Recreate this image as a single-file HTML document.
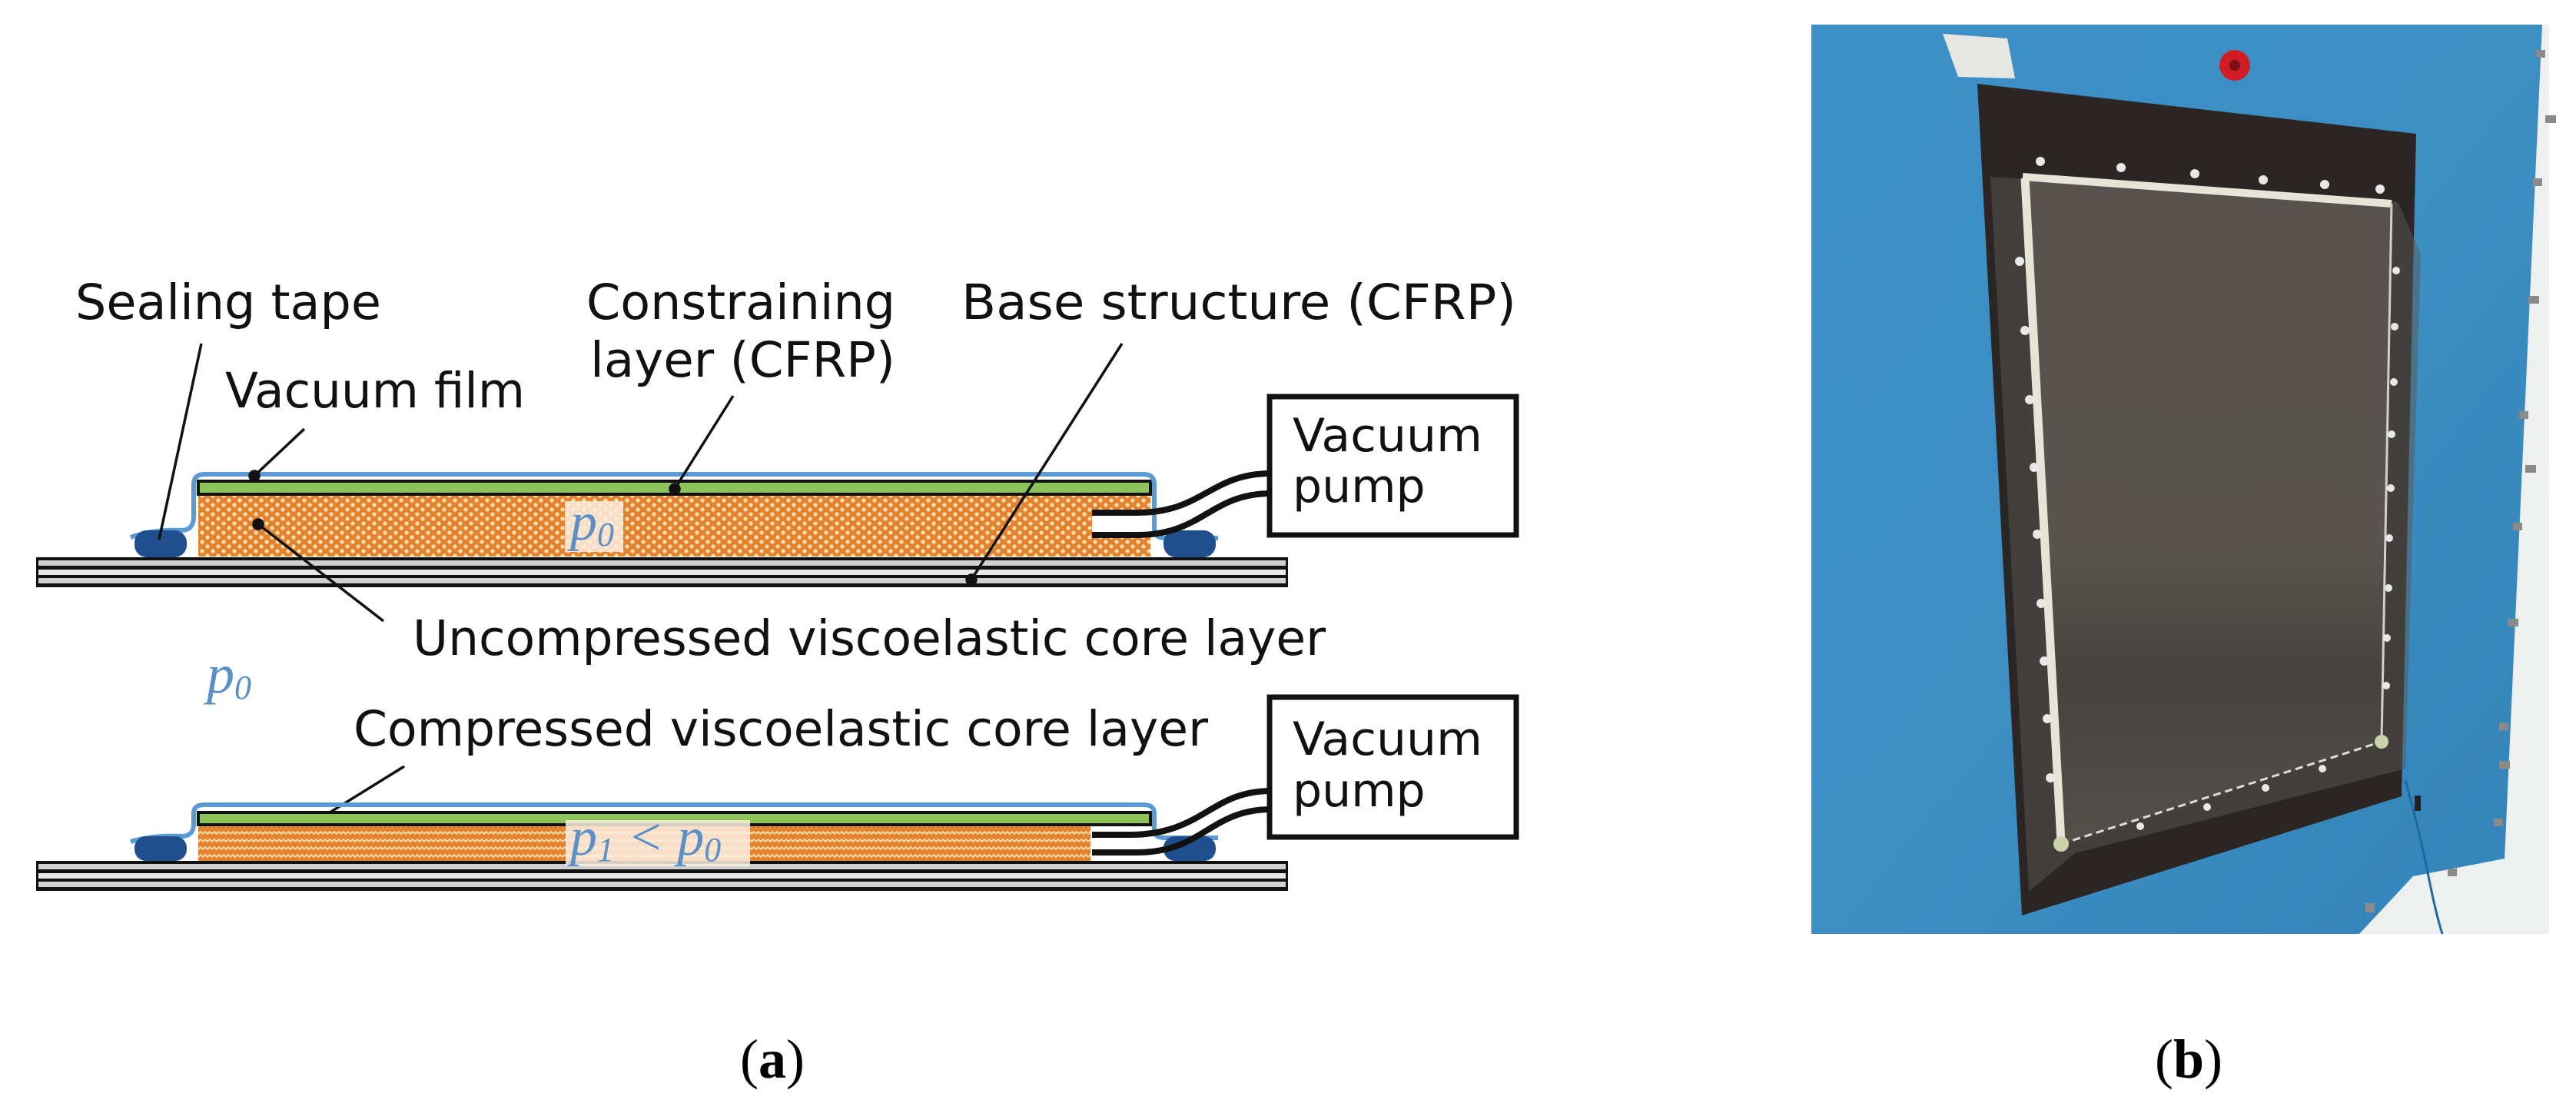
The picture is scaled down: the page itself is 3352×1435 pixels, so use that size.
<!DOCTYPE html>
<html><head><meta charset="utf-8"><style>
html,body{margin:0;padding:0;background:#fff;}
svg{display:block;}
</style></head><body>
<svg width="3352" height="1435" viewBox="0 0 3352 1435" xmlns="http://www.w3.org/2000/svg">
<defs>
<pattern id="dots" width="14" height="12" patternUnits="userSpaceOnUse">
<rect width="14" height="12" fill="#e4832f"/>
<circle cx="4" cy="3" r="2.6" fill="#fbe0b0"/>
<circle cx="11" cy="9" r="2.6" fill="#fbe0b0"/>
</pattern>
<pattern id="zig" width="12" height="10" patternUnits="userSpaceOnUse">
<rect width="12" height="10" fill="#e4832f"/>
<path d="M0,5 L3,2 L6,5 L9,2 L12,5" stroke="#fbd9a8" stroke-width="2" fill="none"/>
</pattern>
<linearGradient id="bag" x1="0" y1="0" x2="0" y2="1">
<stop offset="0" stop-color="#57524e"/><stop offset="0.55" stop-color="#59544f"/><stop offset="0.75" stop-color="#46423f"/><stop offset="1" stop-color="#54504c"/>
</linearGradient>
<linearGradient id="blue" x1="0" y1="0" x2="1" y2="1">
<stop offset="0" stop-color="#3d90c6"/><stop offset="0.5" stop-color="#3c8ec3"/><stop offset="1" stop-color="#3383b9"/>
</linearGradient>
</defs>

<g font-family="DejaVu Sans, Liberation Sans, sans-serif" font-size="63" fill="#111">
<text x="98" y="415" textLength="398" lengthAdjust="spacingAndGlyphs">Sealing tape</text>
<text x="763" y="415" textLength="402" lengthAdjust="spacingAndGlyphs">Constraining</text>
<text x="768" y="490" textLength="397" lengthAdjust="spacingAndGlyphs">layer (CFRP)</text>
<text x="1251" y="415" textLength="722" lengthAdjust="spacingAndGlyphs">Base structure (CFRP)</text>
<text x="293" y="530" textLength="390" lengthAdjust="spacingAndGlyphs">Vacuum film</text>
<text x="537" y="852" textLength="1188" lengthAdjust="spacingAndGlyphs">Uncompressed viscoelastic core layer</text>
<text x="460" y="970" textLength="1112" lengthAdjust="spacingAndGlyphs">Compressed viscoelastic core layer</text>
</g>

<!-- Top assembly -->
<g>
<rect x="47" y="725" width="1629" height="39" fill="#111"/>
<rect x="50" y="729" width="1623" height="7" fill="#d0d0d0"/>
<rect x="50" y="741" width="1623" height="7" fill="#e8e8e8"/>
<rect x="50" y="752" width="1623" height="7" fill="#d0d0d0"/>
<rect x="258" y="644" width="1239" height="80" fill="url(#dots)"/>
<rect x="1421" y="668" width="76" height="28" fill="#fff"/>
<rect x="258" y="626" width="1239" height="17" fill="#8dc45a" stroke="#111" stroke-width="4"/>
<path d="M170,699 Q200,688 236,690 Q252,690 252,672 L252,630 Q252,617 266,617 L1488,617 Q1502,617 1502,630 L1502,688 Q1502,700 1516,700 L1585,700" fill="none" stroke="#5b9bd5" stroke-width="6"/>
<rect x="175" y="690" width="68" height="35" rx="16" fill="#1f4f8e"/>
<rect x="1514" y="690" width="68" height="35" rx="16" fill="#1f4f8e"/>
<path d="M1421,667 L1480,667 C1565,667 1575,616 1654,616" fill="none" stroke="#111" stroke-width="8"/>
<path d="M1421,696 L1480,696 C1565,696 1575,642 1654,642" fill="none" stroke="#111" stroke-width="8"/>
<rect x="735" y="652" width="76" height="66" fill="#fbeee0" opacity="0.85"/>
<text x="742" y="702" font-family="Liberation Serif, serif" font-style="italic" font-size="70" fill="#5b8fc8">p<tspan font-size="44" dy="8">0</tspan></text>
</g>

<!-- pointers -->
<g stroke="#111" stroke-width="3.5" fill="#111">
<line x1="262" y1="447" x2="207" y2="702"/>
<line x1="396" y1="558" x2="331" y2="619"/><circle cx="331" cy="619" r="6"/>
<line x1="954" y1="515" x2="878" y2="636"/><circle cx="878" cy="636" r="6"/>
<line x1="1460" y1="447" x2="1264" y2="754"/><circle cx="1264" cy="754" r="6"/>
<line x1="499" y1="808" x2="336" y2="682"/><circle cx="336" cy="682" r="6"/>
<line x1="526" y1="997" x2="363" y2="1098"/><circle cx="363" cy="1098" r="6"/>
</g>

<text x="269" y="901" font-family="Liberation Serif, serif" font-style="italic" font-size="72" fill="#5b8fc8">p<tspan font-size="44" dy="8">0</tspan></text>

<!-- Bottom assembly -->
<g>
<rect x="47" y="1120" width="1629" height="39" fill="#111"/>
<rect x="50" y="1124" width="1623" height="7" fill="#d0d0d0"/>
<rect x="50" y="1136" width="1623" height="7" fill="#e8e8e8"/>
<rect x="50" y="1147" width="1623" height="7" fill="#d0d0d0"/>
<rect x="258" y="1075" width="1161" height="45" fill="url(#zig)"/>
<rect x="258" y="1057" width="1239" height="16" fill="#8dc45a" stroke="#111" stroke-width="4"/>
<path d="M170,1095 Q200,1086 236,1088 Q252,1088 252,1072 L252,1058 Q252,1047 266,1047 L1488,1047 Q1502,1047 1502,1058 L1502,1080 Q1502,1090 1516,1090 L1585,1090" fill="none" stroke="#5b9bd5" stroke-width="6"/>
<rect x="175" y="1088" width="68" height="32" rx="15" fill="#1f4f8e"/>
<rect x="1514" y="1088" width="68" height="32" rx="15" fill="#1f4f8e"/>
<path d="M1421,1086 L1470,1086 C1565,1086 1575,1029 1654,1029" fill="none" stroke="#111" stroke-width="8"/>
<path d="M1421,1109 L1480,1109 C1565,1109 1575,1053 1654,1053" fill="none" stroke="#111" stroke-width="8"/>
<rect x="736" y="1067" width="240" height="60" fill="#fbeee0" opacity="0.85"/>
<text x="742" y="1112" font-family="Liberation Serif, serif" font-style="italic" font-size="70" fill="#5b8fc8">p<tspan font-size="44" dy="8">1</tspan><tspan dy="-8"> &lt; p</tspan><tspan font-size="44" dy="8">0</tspan></text>
</g>

<!-- pump boxes -->
<rect x="1652" y="516" width="321" height="180" fill="#fff" stroke="#111" stroke-width="7"/>
<rect x="1652" y="907" width="321" height="182" fill="#fff" stroke="#111" stroke-width="7"/>
<g font-family="DejaVu Sans, Liberation Sans, sans-serif" font-size="60" fill="#111">
<text x="1682" y="587" textLength="247" lengthAdjust="spacingAndGlyphs">Vacuum</text>
<text x="1682" y="653">pump</text>
<text x="1682" y="982" textLength="247" lengthAdjust="spacingAndGlyphs">Vacuum</text>
<text x="1682" y="1049">pump</text>
</g>

<!-- captions -->
<text x="1005" y="1402" text-anchor="middle" font-family="Liberation Serif, serif" font-size="72" fill="#000">(<tspan font-weight="bold">a</tspan>)</text>
<text x="2848" y="1402" text-anchor="middle" font-family="Liberation Serif, serif" font-size="72" fill="#000">(<tspan font-weight="bold">b</tspan>)</text>

<!-- Photo -->
<g>
<rect x="2357" y="32" width="960" height="1183" fill="url(#blue)"/>
<polygon points="3308,32 3317,32 3317,1215 3070,1215 3140,1140 3259,1117" fill="#eef0f0"/>
<polygon points="2528,44 2612,50 2622,102 2548,100" fill="#e6e6e2"/>
<polygon points="2573,109 3144,174 3125,1036 2631,1191" fill="#2b2624"/>
<polygon points="2590,230 3120,262 3150,330 3130,1000 2700,1110 2640,1160" fill="#5a5754" opacity="0.5"/>
<polygon points="2632,232 3112,267 3099,965 2682,1098" fill="url(#bag)"/>
<line x1="2632" y1="230" x2="3112" y2="265" stroke="#e6e4d6" stroke-width="10"/>
<line x1="2635" y1="232" x2="2682" y2="1096" stroke="#e6e4d6" stroke-width="11"/>
<line x1="2682" y1="1098" x2="3099" y2="965" stroke="#ddd" stroke-width="3" stroke-dasharray="10,6"/>
<line x1="3112" y1="265" x2="3099" y2="965" stroke="#cfcfcf" stroke-width="3"/>
<circle cx="2682" cy="1098" r="10" fill="#c9d2a8"/>
<circle cx="3099" cy="965" r="9" fill="#c9d2a8"/>
<circle cx="2908" cy="85" r="20" fill="#d01c22"/>
<circle cx="2908" cy="85" r="7" fill="#7a1014"/>
<g fill="#e8e8e8">
<circle cx="2655" cy="210" r="6"/><circle cx="2760" cy="218" r="6"/><circle cx="2856" cy="226" r="6"/><circle cx="2945" cy="234" r="6"/><circle cx="3025" cy="240" r="6"/><circle cx="3097" cy="246" r="6"/>
<circle cx="2628" cy="340" r="6"/><circle cx="2635" cy="430" r="6"/><circle cx="2641" cy="520" r="6"/><circle cx="2647" cy="608" r="6"/><circle cx="2651" cy="695" r="6"/><circle cx="2656" cy="785" r="6"/><circle cx="2660" cy="860" r="6"/><circle cx="2664" cy="935" r="6"/><circle cx="2668" cy="1012" r="6"/>
<circle cx="3118" cy="352" r="5"/><circle cx="3116" cy="425" r="5"/><circle cx="3115" cy="497" r="5"/><circle cx="3112" cy="565" r="5"/><circle cx="3111" cy="635" r="5"/><circle cx="3109" cy="700" r="5"/><circle cx="3108" cy="765" r="5"/><circle cx="3106" cy="830" r="5"/><circle cx="3105" cy="892" r="5"/>
<circle cx="2785" cy="1075" r="5"/><circle cx="2872" cy="1050" r="5"/><circle cx="2948" cy="1025" r="5"/><circle cx="3022" cy="1000" r="5"/>
</g>
<g fill="#8a8a8a">
<rect x="3300" y="65" width="12" height="10"/><rect x="3312" y="150" width="14" height="10"/><rect x="3296" y="232" width="12" height="10"/><rect x="3290" y="385" width="14" height="10"/><rect x="3278" y="535" width="12" height="10"/><rect x="3286" y="605" width="14" height="10"/><rect x="3270" y="680" width="12" height="10"/><rect x="3263" y="805" width="14" height="10"/><rect x="3252" y="940" width="12" height="10"/><rect x="3252" y="990" width="14" height="10"/><rect x="3245" y="1065" width="12" height="10"/><rect x="3185" y="1130" width="12" height="10"/><rect x="3078" y="1175" width="12" height="12"/>
</g>
<path d="M3130,1015 Q3148,1080 3160,1140 Q3170,1190 3178,1215" fill="none" stroke="#1e6aa0" stroke-width="3"/>
<rect x="3142" y="1035" width="8" height="20" fill="#222"/>
</g>
</svg>
</body></html>
